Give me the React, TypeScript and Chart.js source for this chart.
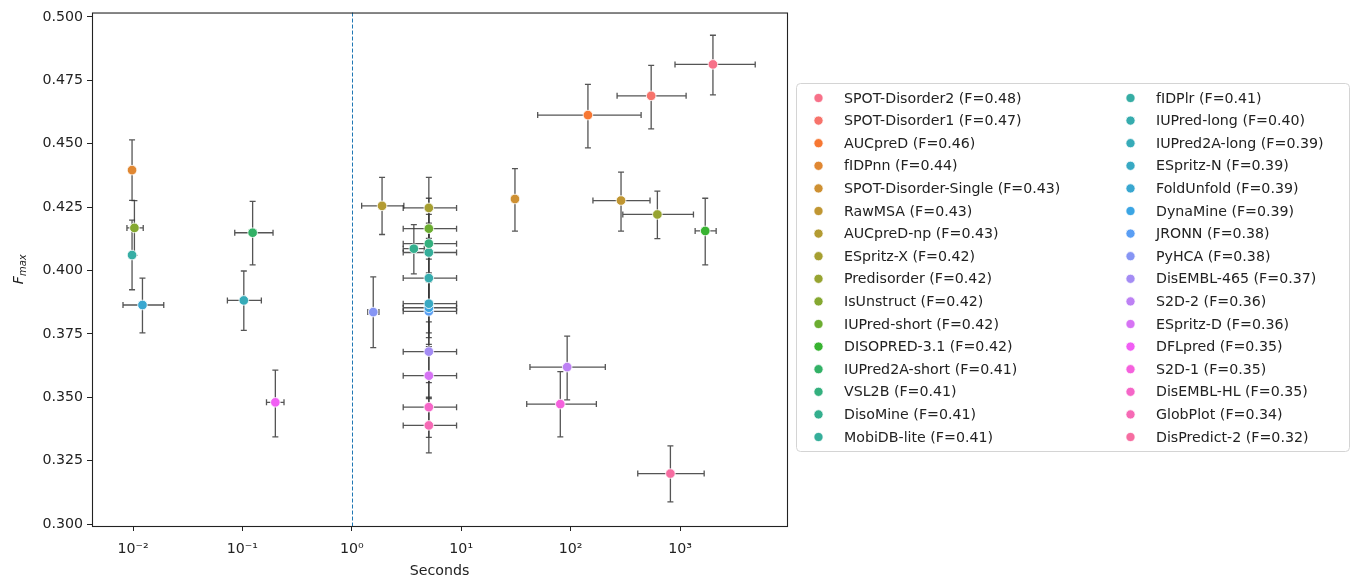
import React, { useEffect, useRef } from "react";
import { Chart, registerables } from "chart.js";

Chart.register(...registerables);

// ---------------- data ----------------
const methods = [
  "SPOT-Disorder2", "SPOT-Disorder1", "AUCpreD", "fIDPnn", "SPOT-Disorder-Single",
  "RawMSA", "AUCpreD-np", "ESpritz-X", "Predisorder", "IsUnstruct",
  "IUPred-short", "DISOPRED-3.1", "IUPred2A-short", "VSL2B", "DisoMine",
  "MobiDB-lite", "fIDPlr", "IUPred-long", "IUPred2A-long", "ESpritz-N",
  "FoldUnfold", "DynaMine", "JRONN", "PyHCA", "DisEMBL-465",
  "S2D-2", "ESpritz-D", "DFLpred", "S2D-1", "DisEMBL-HL",
  "GlobPlot", "DisPredict-2",
];

const seconds = [
  2000, 545, 144, 0.0098, 31,
  289, 1.89, 5.06, 621, 0.0103,
  5.06, 1700, 0.124, 5.06, 3.69,
  5.06, 0.0098, 5.06, 0.103, 5.06,
  0.0122, 5.06, 5.06, 1.57, 5.06,
  93, 5.06, 0.2, 80.5, 5.06,
  5.06, 817,
];
const secondsLow = [
  900, 266, 50, 0.0098, 31,
  160, 1.23, 2.95, 300, 0.0088,
  2.95, 1375, 0.0851, 2.95, 2.95,
  2.95, 0.0098, 2.95, 0.0729, 2.95,
  0.0081, 2.95, 2.95, 1.4, 2.95,
  42.5, 2.95, 0.166, 39.7, 2.95,
  2.95, 411,
];
const secondsHigh = [
  4870, 1137, 441, 0.0098, 31,
  532, 2.99, 9.07, 1327, 0.0124,
  9.07, 2140, 0.1905, 9.07, 4.6,
  9.07, 0.0098, 9.07, 0.149, 9.07,
  0.0191, 9.07, 9.07, 1.77, 9.07,
  207.6, 9.07, 0.24, 172, 9.07,
  9.07, 1663,
];

const fmax = [
  0.4813, 0.4689, 0.4613, 0.4396, 0.4282,
  0.4276, 0.4255, 0.4247, 0.4221, 0.4168,
  0.4165, 0.4156, 0.4149, 0.4106, 0.4086,
  0.4071, 0.4061, 0.397, 0.3882, 0.3869,
  0.3864, 0.3853, 0.3839, 0.3836, 0.368,
  0.3619, 0.3585, 0.348, 0.3473, 0.3461,
  0.3389, 0.3199,
];
const fmaxLow = [
  0.4693, 0.4559, 0.4484, 0.4277, 0.4155,
  0.4155, 0.4142, 0.4127, 0.4126, 0.406,
  0.4045, 0.4022, 0.4022, 0.3991, 0.3987,
  0.3955, 0.3924, 0.3855, 0.3764, 0.3754,
  0.3754, 0.3735, 0.3709, 0.3696, 0.3558,
  0.349, 0.3495, 0.3344, 0.3344, 0.3342,
  0.3281, 0.3087,
];
const fmaxHigh = [
  0.4928, 0.4809, 0.4734, 0.4515, 0.4402,
  0.4388, 0.4367, 0.4367, 0.4313, 0.4276,
  0.4285, 0.4285, 0.4273, 0.4221, 0.4181,
  0.4187, 0.4199, 0.4085, 0.3998, 0.3984,
  0.397, 0.3971, 0.3958, 0.3975, 0.3797,
  0.3741, 0.37, 0.3607, 0.3601, 0.358,
  0.35, 0.3308,
];

const xTickValues = [0.01, 0.1, 1, 10, 100, 1000];
const xTickLabels = ["10\u207B\u00B2", "10\u207B\u00B9", "10\u2070", "10\u00B9", "10\u00B2", "10\u00B3"];
const yTickValues = [0.3, 0.325, 0.35, 0.375, 0.4, 0.425, 0.45, 0.475, 0.5];
const xTitle = "Seconds";
const thresholdSeconds = 1;

const legendLabels = methods.map((m, i) => `${m} (F=${fmax[i].toFixed(2)})`);

// ---------------- husl palette (seaborn) ----------------
const M = [
  [3.2406, -1.5372, -0.4986],
  [-0.9689, 1.8758, 0.0415],
  [0.0557, -0.204, 1.057],
];
const refY = 1.0, refU = 0.19784, refV = 0.46834, labE = 0.008856, labK = 903.3;

function maxChroma(L: number, H: number) {
  const hrad = (H / 360) * 2 * Math.PI;
  const sinH = Math.sin(hrad), cosH = Math.cos(hrad);
  const sub1 = Math.pow(L + 16, 3) / 1560896;
  const sub2 = sub1 > 0.008856 ? sub1 : L / 903.3;
  let result = Infinity;
  for (const row of M) {
    const [m1, m2, m3] = row;
    const top = (0.99915 * m1 + 1.05122 * m2 + 1.1446 * m3) * sub2;
    const rbottom = 0.8633 * m3 - 0.17266 * m2;
    const lbottom = 0.12949 * m3 - 0.38848 * m1;
    const bottom = (rbottom * sinH + lbottom * cosH) * sub2;
    for (const t of [0, 1]) {
      const C = (L * (top - 1.05122 * t)) / (bottom + 0.17266 * sinH * t);
      if (C > 0 && C < result) result = C;
    }
  }
  return result;
}
function fInv(t: number) {
  const t3 = t * t * t;
  return t3 > labE ? t3 : (116 * t - 16) / labK;
}
function fromLinear(c: number) {
  return c <= 0.0031308 ? 12.92 * c : 1.055 * Math.pow(c, 1 / 2.4) - 0.055;
}
function huslToRgb(H: number, S: number, L: number) {
  const C = (maxChroma(L, H) / 100) * S;
  const hrad = (H / 360) * 2 * Math.PI;
  const U = Math.cos(hrad) * C, V = Math.sin(hrad) * C;
  const varY = fInv((L + 16) / 116);
  const varU = U / (13 * L) + refU;
  const varV = V / (13 * L) + refV;
  const Y = varY * refY;
  const X = -(9 * Y * varU) / ((varU - 4) * varV - varU * varV);
  const Z = (9 * Y - 15 * varV * Y - varV * X) / (3 * varV);
  return M.map((r) => {
    const v = fromLinear(r[0] * X + r[1] * Y + r[2] * Z);
    return Math.round(Math.min(1, Math.max(0, v)) * 255);
  });
}
function huslPalette(n: number) {
  const out: string[] = [];
  for (let i = 0; i < n; i++) {
    const h = (((i / n) + 0.01) % 1) * 359;
    const [r, g, b] = huslToRgb(h, 0.9 * 99, 0.65 * 99);
    out.push(`rgb(${r},${g},${b})`);
  }
  return out;
}
const palette = huslPalette(methods.length);

// ---------------- geometry ----------------
const W = 1356, H = 581;
const AREA = { left: 92, right: 787, top: 9, bottom: 526 };
const X_MIN = 0.004218, X_MAX = 9506;
const Y_MIN = 0.29922, Y_MAX = 0.50176;
const FONT = "DejaVu Sans";
const FS = 14.2;
const TEXT = "#222";

const decorPlugin = {
  id: "decor",
  beforeDatasetsDraw(chart: any) {
    const { ctx, chartArea } = chart;
    const xs = chart.scales.x, ys = chart.scales.y;
    ctx.save();
    // vertical dashed threshold line
    const x1 = Math.round(xs.getPixelForValue(thresholdSeconds)) + 0.5;
    ctx.strokeStyle = "#1f77b4";
    ctx.lineWidth = 1;
    ctx.setLineDash([4, 2]);
    ctx.beginPath();
    ctx.moveTo(x1, chartArea.top);
    ctx.lineTo(x1, chartArea.bottom);
    ctx.stroke();
    ctx.setLineDash([]);
    // error bars
    ctx.strokeStyle = "rgba(55,55,55,0.85)";
    ctx.lineWidth = 1.3;
    const cap = 3;
    for (let i = 0; i < methods.length; i++) {
      const px = xs.getPixelForValue(seconds[i]);
      const py = ys.getPixelForValue(fmax[i]);
      if (secondsHigh[i] > secondsLow[i]) {
        const xl = xs.getPixelForValue(secondsLow[i]);
        const xh = xs.getPixelForValue(secondsHigh[i]);
        ctx.beginPath();
        ctx.moveTo(xl, py); ctx.lineTo(xh, py);
        ctx.moveTo(xl, py - cap); ctx.lineTo(xl, py + cap);
        ctx.moveTo(xh, py - cap); ctx.lineTo(xh, py + cap);
        ctx.stroke();
      }
      const yl = ys.getPixelForValue(fmaxLow[i]);
      const yh = ys.getPixelForValue(fmaxHigh[i]);
      ctx.beginPath();
      ctx.moveTo(px, yl); ctx.lineTo(px, yh);
      ctx.moveTo(px - cap, yl); ctx.lineTo(px + cap, yl);
      ctx.moveTo(px - cap, yh); ctx.lineTo(px + cap, yh);
      ctx.stroke();
    }
    ctx.restore();
  },
  afterDraw(chart: any) {
    const { ctx, chartArea } = chart;
    ctx.save();
    // frame
    ctx.strokeStyle = "#222";
    ctx.lineWidth = 1.1;
    ctx.strokeRect(chartArea.left + 0.5, chartArea.top + 0.5, chartArea.right - chartArea.left, chartArea.bottom - chartArea.top);

    // x title
    ctx.fillStyle = TEXT;
    ctx.font = `${FS}px "${FONT}"`;
    ctx.textAlign = "center";
    ctx.textBaseline = "middle";
    ctx.fillText(xTitle, (chartArea.left + chartArea.right) / 2, 571);

    // y title F_max
    ctx.save();
    ctx.translate(18, (chartArea.top + chartArea.bottom) / 2);
    ctx.rotate(-Math.PI / 2);
    ctx.font = `italic ${FS}px "${FONT}"`;
    const wF = ctx.measureText("F").width;
    ctx.font = `italic ${FS * 0.7}px "${FONT}"`;
    const wS = ctx.measureText("max").width;
    const start = -(wF + wS) / 2;
    ctx.textAlign = "left";
    ctx.textBaseline = "alphabetic";
    ctx.font = `italic ${FS}px "${FONT}"`;
    ctx.fillText("F", start, 5);
    ctx.font = `italic ${FS * 0.7}px "${FONT}"`;
    ctx.fillText("max", start + wF, 8);
    ctx.restore();

    // legend
    const bx = 796.5, by = 83.5, bw = 553, bh = 368;
    ctx.beginPath();
    ctx.roundRect(bx, by, bw, bh, 4);
    ctx.fillStyle = "rgba(255,255,255,0.8)";
    ctx.fill();
    ctx.strokeStyle = "#d4d4d4";
    ctx.lineWidth = 1;
    ctx.stroke();
    const perCol = 16;
    const colText = [844, 1156];
    const y0 = 98, dy = 22.6;
    ctx.font = `${FS}px "${FONT}"`;
    ctx.textAlign = "left";
    ctx.textBaseline = "middle";
    for (let i = 0; i < legendLabels.length; i++) {
      const col = Math.floor(i / perCol);
      const row = i % perCol;
      const y = y0 + row * dy;
      const tx = colText[col];
      const mx = tx - 25.5;
      ctx.beginPath();
      ctx.arc(mx, y, 4.6, 0, Math.PI * 2);
      ctx.fillStyle = palette[i];
      ctx.fill();
      ctx.strokeStyle = "#fff";
      ctx.lineWidth = 0.8;
      ctx.stroke();
      ctx.fillStyle = TEXT;
      ctx.fillText(legendLabels[i], tx, y + 1);
    }
    ctx.restore();
  },
};

export default function App() {
  const canvasRef = useRef<HTMLCanvasElement | null>(null);

  useEffect(() => {
    const canvas = canvasRef.current;
    if (!canvas) return;
    Chart.defaults.font.family = FONT;

    const datasets = methods.map((m, i) => ({
      label: legendLabels[i],
      data: [{ x: seconds[i], y: fmax[i] }],
      backgroundColor: palette[i],
      borderColor: "#ffffff",
      borderWidth: 0.8,
      pointRadius: 4.8,
      pointHoverRadius: 4.8,
    }));

    const chart = new Chart(canvas, {
      type: "scatter",
      data: { datasets },
      plugins: [decorPlugin],
      options: {
        animation: false,
        responsive: false,
        devicePixelRatio: 1,
        layout: { padding: { left: 0, top: AREA.top, right: W - AREA.right, bottom: 0 } },
        plugins: { legend: { display: false }, tooltip: { enabled: false } },
        scales: {
          x: {
            type: "logarithmic",
            min: X_MIN,
            max: X_MAX,
            afterBuildTicks: (s: any) => {
              s.ticks = xTickValues.map((v) => ({ value: v }));
            },
            afterFit: (s: any) => {
              s.height = H - AREA.bottom;
            },
            ticks: {
              callback: (_v: any, i: number) => xTickLabels[i],
              autoSkip: false,
              maxRotation: 0,
              minRotation: 0,
              padding: 10,
              color: TEXT,
              font: { size: FS, family: FONT },
            },
            grid: { drawOnChartArea: false, drawTicks: true, tickLength: 5, color: "#222", tickWidth: 1 },
            border: { display: false },
          },
          y: {
            type: "linear",
            min: Y_MIN,
            max: Y_MAX,
            afterBuildTicks: (s: any) => {
              s.ticks = yTickValues.map((v) => ({ value: v }));
            },
            afterFit: (s: any) => {
              s.width = AREA.left;
            },
            ticks: {
              callback: (v: any) => Number(v).toFixed(3),
              autoSkip: false,
              padding: 4,
              color: TEXT,
              font: { size: FS, family: FONT },
            },
            grid: { drawOnChartArea: false, drawTicks: true, tickLength: 5, color: "#222", tickWidth: 1 },
            border: { display: false },
          },
        },
      },
    } as any);

    return () => chart.destroy();
  }, []);

  return (
    <div style={{ position: "fixed", left: 0, top: 0, width: W, height: H, background: "#fff" }}>
      <canvas ref={canvasRef} width={W} height={H} style={{ display: "block" }} />
    </div>
  );
}
